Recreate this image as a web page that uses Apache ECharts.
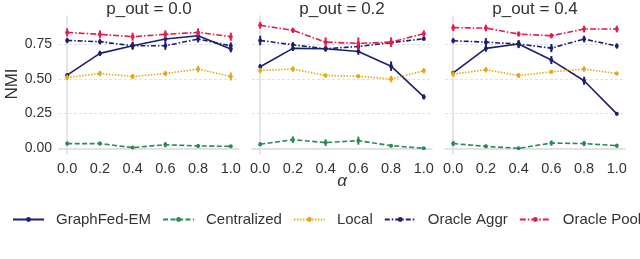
<!DOCTYPE html>
<html>
<head>
<meta charset="utf-8">
<script src="https://cdn.jsdelivr.net/npm/echarts@6/dist/echarts.min.js"></script>
<style>html,body{margin:0;padding:0;background:#fff;}#c{width:640px;height:259px;}</style>
</head>
<body>
<div id="c"></div>
<script>
const alphas = [0, 0.2, 0.4, 0.6, 0.8, 1.0];
const panelTitles = ['p_out = 0.0', 'p_out = 0.2', 'p_out = 0.4'];
const xTicks = [0, 0.2, 0.4, 0.6, 0.8, 1.0];
const yTicks = [0, 0.25, 0.5, 0.75];
const seriesNames = ['GraphFed-EM', 'Centralized', 'Local', 'Oracle Aggr', 'Oracle Pool'];

// mean NMI per panel (p_out = 0.0, 0.2, 0.4)
const graphFedEM = [
  [0.526, 0.683, 0.738, 0.786, 0.810, 0.714],
  [0.587, 0.719, 0.716, 0.697, 0.591, 0.370],
  [0.543, 0.719, 0.750, 0.635, 0.486, 0.248]
];
const centralized = [
  [0.034, 0.034, 0.005, 0.026, 0.017, 0.014],
  [0.029, 0.062, 0.041, 0.055, 0.019, 0.000],
  [0.034, 0.014, 0.000, 0.038, 0.034, 0.019]
];
const local = [
  [0.510, 0.538, 0.517, 0.538, 0.570, 0.517],
  [0.560, 0.570, 0.524, 0.519, 0.498, 0.558],
  [0.534, 0.565, 0.524, 0.550, 0.570, 0.538]
];
const oracleAggr = [
  [0.776, 0.767, 0.738, 0.738, 0.786, 0.738],
  [0.776, 0.745, 0.716, 0.733, 0.760, 0.788],
  [0.774, 0.764, 0.750, 0.721, 0.786, 0.736]
];
const oraclePool = [
  [0.834, 0.820, 0.803, 0.820, 0.834, 0.803],
  [0.885, 0.849, 0.764, 0.755, 0.764, 0.825],
  [0.868, 0.865, 0.822, 0.810, 0.858, 0.858]
];

// error bar half-widths
const graphFedEMErr = [
  [0.014, 0.019, 0.024, 0.019, 0.019, 0.024],
  [0.019, 0.019, 0.019, 0.024, 0.034, 0.019],
  [0.014, 0.024, 0.024, 0.029, 0.029, 0.012]
];
const centralizedErr = [
  [0.014, 0.014, 0.007, 0.019, 0.012, 0.010],
  [0.014, 0.024, 0.024, 0.029, 0.012, 0.005],
  [0.019, 0.012, 0.005, 0.019, 0.019, 0.014]
];
const localErr = [
  [0.019, 0.019, 0.019, 0.019, 0.024, 0.029],
  [0.019, 0.019, 0.014, 0.014, 0.024, 0.019],
  [0.019, 0.019, 0.019, 0.014, 0.019, 0.014]
];
const oracleAggrErr = [
  [0.019, 0.019, 0.029, 0.029, 0.024, 0.024],
  [0.034, 0.019, 0.019, 0.019, 0.019, 0.014],
  [0.019, 0.029, 0.029, 0.029, 0.024, 0.019]
];
const oraclePoolErr = [
  [0.029, 0.029, 0.029, 0.029, 0.029, 0.029],
  [0.024, 0.019, 0.034, 0.043, 0.034, 0.024],
  [0.024, 0.024, 0.019, 0.019, 0.024, 0.024]
];

const seriesValues = [graphFedEM, centralized, local, oracleAggr, oraclePool];
const seriesErrs = [graphFedEMErr, centralizedErr, localErr, oracleAggrErr, oraclePoolErr];
const colors = ['#1b1f72', '#2a8a55', '#e6a817', '#1b1f72', '#e8194b'];
const dashes = ['solid', [5, 2.5], [1.5, 1.5], [5, 2, 1.5, 2], [6, 2, 1.5, 2]];

const FONT = 'Liberation Sans, Arial, sans-serif';
const gridLefts = [59, 252, 445];
const gridW = 180, gridTop = 16, gridH = 138;

const grids = [], xAxes = [], yAxes = [], series = [], graphics = [];
for (let p = 0; p < 3; p++) {
  grids.push({left: gridLefts[p], top: gridTop, width: gridW, height: gridH});
  xAxes.push({
    type: 'value', gridIndex: p, min: -0.05, max: 1.05,
    axisLine: {show: true, lineStyle: {color: '#dcdcdc', width: 1.5}},
    axisTick: {show: false, customValues: xTicks},
    splitLine: {show: false},
    axisLabel: {customValues: xTicks, color: '#333', fontFamily: FONT, fontSize: 14.5, margin: 7,
      formatter: v => v.toFixed(1)}
  });
  yAxes.push({
    type: 'value', gridIndex: p, min: -0.041, max: 0.952,
    axisLine: {show: true, lineStyle: {color: '#dcdcdc', width: 1.5}},
    axisTick: {show: false, customValues: yTicks},
    splitLine: {show: true, lineStyle: {color: '#e2e2e2', type: [3, 2], width: 1}},
    axisLabel: {show: p === 0, customValues: yTicks, color: '#333', fontFamily: FONT, fontSize: 14, margin: 7,
      formatter: v => v.toFixed(2)}
  });
  graphics.push({
    type: 'text', x: gridLefts[p] + gridW / 2, y: 9,
    style: {text: panelTitles[p], fill: '#333', font: '17px ' + FONT, textAlign: 'center', textVerticalAlign: 'middle'}
  });
  for (let s = 0; s < seriesNames.length; s++) {
    const vals = seriesValues[s][p];
    const errs = seriesErrs[s][p];
    series.push({
      name: seriesNames[s], type: 'line', xAxisIndex: p, yAxisIndex: p,
      data: alphas.map((a, i) => [a, vals[i]]),
      symbol: 'circle', symbolSize: 4, showSymbol: true,
      lineStyle: {color: colors[s], width: 1.6, type: dashes[s]},
      itemStyle: {color: colors[s]},
      z: 3 + s, animation: false
    });
    series.push({
      name: seriesNames[s] + ' err', type: 'custom', xAxisIndex: p, yAxisIndex: p,
      data: alphas.map((a, i) => [a, vals[i] - errs[i], vals[i] + errs[i]]),
      encode: {x: 0, y: [1, 2]},
      renderItem: (params, api) => {
        const lo = api.coord([api.value(0), api.value(1)]);
        const hi = api.coord([api.value(0), api.value(2)]);
        return {type: 'line', shape: {x1: lo[0], y1: lo[1], x2: hi[0], y2: hi[1]},
          style: {stroke: colors[s], lineWidth: 2}};
      },
      z: 3 + s, animation: false, silent: true
    });
  }
}

graphics.push({
  type: 'text', x: 12, y: 84, rotation: Math.PI / 2,
  style: {text: 'NMI', fill: '#333', font: '17px ' + FONT, textAlign: 'center', textVerticalAlign: 'middle'}
});
graphics.push({
  type: 'text', x: 342, y: 181,
  style: {text: 'α', fill: '#333', font: 'italic 17px ' + FONT, textAlign: 'center', textVerticalAlign: 'middle'}
});

const chart = echarts.init(document.getElementById('c'), null, {renderer: 'canvas'});
chart.setOption({
  animation: false,
  backgroundColor: '#fff',
  grid: grids, xAxis: xAxes, yAxis: yAxes, series: series, graphic: graphics,
  legend: {
    data: seriesNames, left: 12, top: 212, padding: 0, width: 800,
    itemWidth: 31, itemHeight: 6, itemGap: 11,
    textStyle: {color: '#333', fontFamily: FONT, fontSize: 15, padding: [0, 0, 0, 7]}
  }
});
</script>
</body>
</html>
